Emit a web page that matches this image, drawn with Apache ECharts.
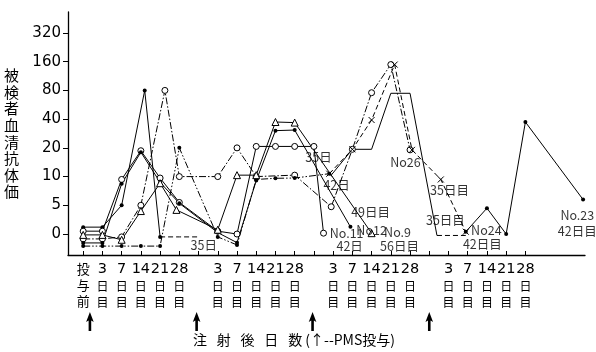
<!DOCTYPE html>
<html><head><meta charset="utf-8">
<script src="https://cdn.jsdelivr.net/npm/echarts@6/dist/echarts.min.js"></script>
<style>html,body{margin:0;padding:0;background:#fff}#c{width:596px;height:352px}</style>
</head><body><div id="c"></div>
<script>
// y levels: 0->0, 5->1, 10->2, 20->3, 40->4, 80->5, 160->6, 320->7 (below 0 = offsets of undetected values)
const yTickValues = [0,1,2,3,4,5,6,7];
const yTickLabels = ['0','5','10','20','40','80','160','320'];
// x slots: 0 = before, 1..5 = days 3..28 of cycle 1, 7..11 cycle 2, 13..17 cycle 3, 19..23 cycle 4
const xLabelSlots = [0,1,2,3,4,5,7,8,9,10,11,13,14,15,16,17,19,20,21,22,23];
const xLabelTexts = ['投与前','3','7','14','21','28','3','7','14','21','28','3','7','14','21','28','3','7','14','21','28'];
const xTickSlots = [0,1,2,3,4,5,6,7,8,9,10,11,12,13,14,15,16,17,18,19,20,21,22,23];
const pmsDoses = [0.35, 5.9, 11.93, 18.0];

const serA  = [[0,0.24],[1,0.24],[2,1],[3.2,5],[4,-0.1]];
const serA2 = [[4,-0.1],[5,-0.1],[6,-0.1]];
const serB  = [[0,-0.17],[1,-0.17],[2,-0.1],[3,1],[4.25,5],[5,2],[7,2],[8,3],[9,2],[11,2.05],[12.9,0.95],[14,2.95],[15,4.92],[16,5.9],[17,2.93]];
const serC  = [[0,0.1],[1,0.1],[2,1.9],[3,2.9],[4,1.95],[5,1.1],[7,0.1],[8,0],[9,3.05],[10,3.05],[11,3.05],[12,3.05],[12.5,0.03]];
const serD  = [[0,-0.31],[1,-0.31],[2,1.75],[3,2.85],[4,1.8],[5,1.07],[7,0.05],[8,-0.3],[9,1.86],[10,3.6],[11,3.62],[13.9,0.25]];
const serE  = [[0,-0.42],[1,-0.42],[2,-0.42],[3,-0.42],[4,-0.42],[5,3],[7,-0.1],[8,-0.38],[9,1.9],[10,1.94],[11,1.95],[12.8,2.1]];
const serF  = [[0,-0.03],[1,-0.03],[2,-0.2],[3,0.8],[4,1.77],[4.85,0.84],[7,0.15],[8,2.05],[9,2.05],[10,3.9],[11,3.88],[15,0.03]];
const serR1 = [[12.9,2.05],[14,2.95],[15,2.95],[16,4.9],[17,4.9],[18.4,-0.05]];
const serR1b= [[18.4,-0.05],[19.9,-0.05]];
const serR2 = [[12.8,2.1],[14,2.95],[15,3.97],[16.2,5.9],[17.1,2.93],[18.6,1.9],[19.9,0.08]];
const serH  = [[19.9,0.08],[21,0.9],[22,0],[23,3.9],[26,1.2]];

const notes = [
  [6.27,-0.38,'35日'],[12.24,2.68,'35日'],[13.18,1.71,'42日'],
  [13.7,0.03,'No.11'],[13.86,-0.42,'42日'],[14.95,0.77,'49日目'],[15.0,0.14,'No12'],
  [16.35,0.07,'No.9'],[16.45,-0.42,'56日目'],[16.76,2.5,'No26'],
  [19.05,1.53,'35日目'],[18.84,0.49,'35日目'],[20.97,0.14,'No24'],[20.76,-0.35,'42日目'],
  [25.7,0.66,'No.23'],[25.7,0.1,'42日目']
];

const K = '#000';
const dot = {symbol:'circle', symbolSize:4, itemStyle:{color:K}};
const ocirc = {symbol:'circle', symbolSize:6, itemStyle:{color:'#fff', borderColor:K, borderWidth:1}};
const tri = {symbol:'triangle', symbolSize:7, itemStyle:{color:'#fff', borderColor:K, borderWidth:1}};
const cross = {symbol:'path://M0,0L10,10M10,0L0,10', symbolSize:6, itemStyle:{color:'none', borderColor:K, borderWidth:1}};
const none = {symbol:'none'};
function line(data, type, mk){
  return Object.assign({type:'line', data:data, showAllSymbol:true, lineStyle:{color:K, width:1, type:type}, z:3}, mk);
}
const dashdot = [7,2,1.5,2];
const dashdot2 = [7,2,1.5,2,1.5,2];
const dashed = [5,3];

const chart = echarts.init(document.getElementById('c'), null, {renderer:'canvas'});
const rich = {
  n:{fontSize:14.5, fontFamily:'DejaVu Sans', lineHeight:17, color:K},
  k:{fontSize:12, fontFamily:'Noto Sans CJK JP', lineHeight:16, color:K},
  c:{fontSize:13, fontFamily:'Noto Sans CJK JP', lineHeight:16, color:K}
};
chart.setOption({
  animation:false,
  grid:{left:68, right:11, top:12, bottom:97},
  xAxis:{type:'value', min:-0.79, max:26.1,
    axisLine:{onZero:false, lineStyle:{color:K, width:1.3}},
    splitLine:{show:false},
    axisTick:{show:true, customValues:xTickSlots, inside:true, length:4, lineStyle:{color:K}},
    axisLabel:{customValues:xLabelSlots, margin:6, rich:rich, showMaxLabel:true, showMinLabel:true, hideOverlap:false,
      formatter:function(v){
        const i = xLabelSlots.indexOf(Math.round(v));
        const t = xLabelTexts[i];
        if (t === '投与前') return '{c|投}\n{c|与}\n{c|前}';
        return '{n|'+t+'}\n{k|日}\n{k|目}';
      }}
  },
  yAxis:{type:'value', min:-0.73, max:7.73,
    axisLine:{show:true, onZero:false, lineStyle:{color:K, width:1.3}},
    splitLine:{show:false},
    axisTick:{show:true, customValues:yTickValues, length:5, lineStyle:{color:K}},
    axisLabel:{customValues:yTickValues, margin:7, color:K, fontSize:15, fontFamily:'DejaVu Sans', showMaxLabel:true, showMinLabel:true,
      formatter:function(v){ return yTickLabels[Math.round(v)]; }},
    name:'被\n検\n者\n血\n清\n抗\n体\n価', nameLocation:'middle', nameRotate:0, nameGap:49,
    nameTextStyle:{fontSize:15, lineHeight:16.6, fontFamily:'Noto Sans CJK JP', color:K}
  },
  series:[
    line(serA,'solid',dot),
    line(serA2,dashed,none),
    line(serB,dashdot,ocirc),
    line(serC,'solid',ocirc),
    line(serD,'solid',dot),
    line(serE,dashdot2,dot),
    line(serF,'solid',tri),
    line(serR1,'solid',none),
    line(serR1b,dashed,none),
    line(serR2,dashed,cross),
    line(serH,'solid',dot),
    {type:'scatter', data:notes, symbolSize:0, z:5,
      label:{show:true, position:'inside', color:K, fontSize:12.5, fontFamily:'Noto Sans CJK JP',
        formatter:function(p){return p.value[2];}}}
  ]
});
function arrow(x){
  return {type:'polygon', shape:{points:[[x,312],[x-3.8,322],[x-1.3,320.5],[x-1.3,331],[x+1.3,331],[x+1.3,320.5],[x+3.8,322]]}, style:{fill:K}};
}
const g = pmsDoses.map(d => arrow(chart.convertToPixel({xAxisIndex:0}, d)));
g.push({type:'text', x:294, y:340, style:{text:'注\u2002\u2009射\u2002\u2009後\u2002\u2009日\u2002\u2009数 (↑--PMS投与)', textAlign:'center', textVerticalAlign:'middle', font:'14px "Noto Sans CJK JP"', fill:K}});
chart.setOption({graphic:g});
</script>
</body></html>
